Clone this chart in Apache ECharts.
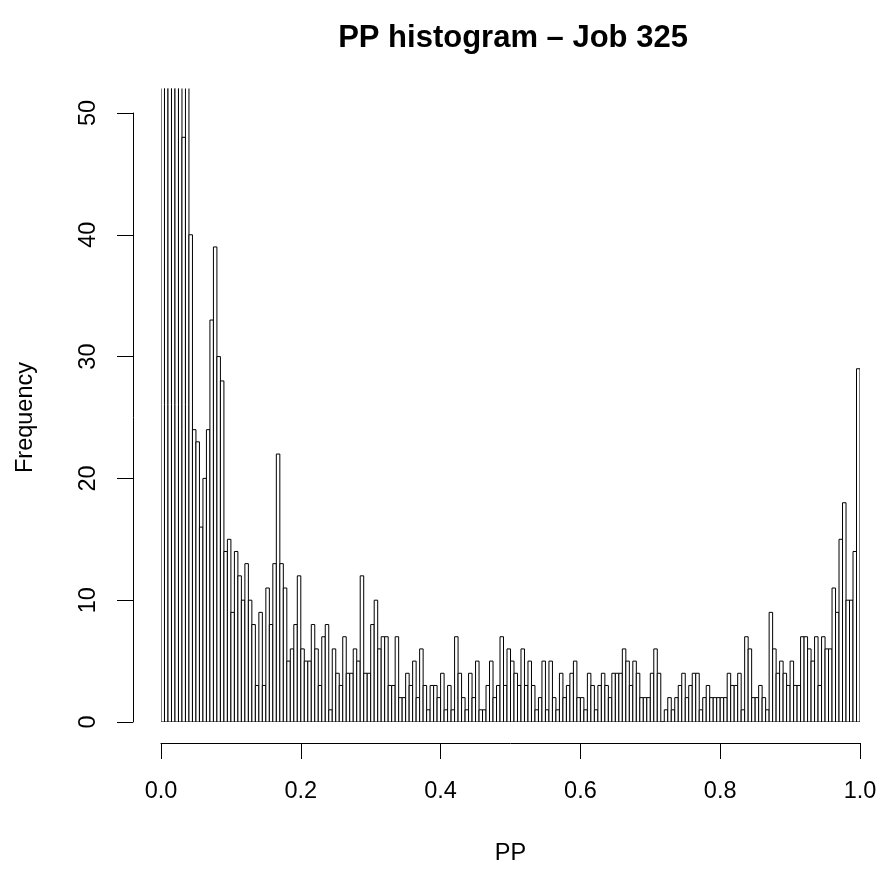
<!DOCTYPE html>
<html>
<head>
<meta charset="utf-8">
<script src="https://cdn.jsdelivr.net/npm/echarts@6/dist/echarts.min.js"></script>
<style>
  html, body { margin: 0; padding: 0; background: #fff; }
  #main { width: 880px; height: 871px; }
</style>
</head>
<body>
<div id="main"></div>
<script>
// histogram of PP, bins of width 0.005 from 0 to 1
var binWidth = 0.005;
// counts per bin, left to right (first bars run off the top of the plot)
var counts = [
  110, 85, 72, 64, 60, 56, 48, 54, 40, 24,
  23, 16, 20, 24, 33, 39, 30, 28, 14, 15,
  9, 14, 12, 10, 13, 10, 8, 3, 9, 3,
  11, 8, 13, 22, 13, 11, 5, 6, 8, 12,
  6, 5, 5, 8, 6, 3, 7, 8, 1, 6,
  4, 3, 7, 4, 4, 6, 5, 12, 4, 4,
  8, 10, 6, 7, 7, 3, 3, 7, 2, 2,
  4, 3, 5, 2, 6, 3, 1, 3, 3, 2,
  4, 1, 3, 1, 7, 4, 2, 1, 4, 2,
  5, 1, 1, 3, 5, 2, 3, 7, 3, 6,
  5, 4, 3, 6, 3, 5, 3, 1, 2, 5,
  1, 5, 2, 1, 4, 2, 3, 4, 5, 2,
  2, 1, 4, 3, 1, 3, 4, 3, 2, 4,
  4, 4, 6, 5, 3, 5, 4, 2, 2, 2,
  4, 6, 4, 0, 1, 2, 1, 2, 3, 4,
  2, 3, 4, 4, 1, 2, 3, 2, 2, 2,
  2, 2, 4, 3, 3, 4, 1, 7, 6, 2,
  2, 3, 2, 1, 9, 6, 4, 5, 4, 3,
  5, 3, 3, 7, 7, 6, 5, 7, 3, 7,
  6, 6, 11, 9, 15, 18, 10, 10, 14, 29
];
var xTicks = [0, 0.2, 0.4, 0.6, 0.8, 1.0];
var yTicks = [0, 10, 20, 30, 40, 50];

var bins = [];
for (var i = 0; i < counts.length; i++) {
  bins.push([i * binWidth, (i + 1) * binWidth, counts[i]]);
}

var chart = echarts.init(document.getElementById('main'));
var font = 'Liberation Sans, Arial, sans-serif';
var black = { color: '#000', width: 1 };

function renderBar(params, api) {
  var p0 = api.coord([api.value(0), 0]);
  var p1 = api.coord([api.value(1), api.value(2)]);
  return {
    type: 'rect',
    shape: { x: p0[0], y: p1[1], width: p1[0] - p0[0], height: p0[1] - p1[1] },
    style: { fill: '#fff', stroke: '#000', lineWidth: 1 }
  };
}

var option = {
  backgroundColor: '#fff',
  animation: false,
  title: {
    text: 'PP histogram \u2013 Job 325',
    left: 508,
    top: 18,
    textAlign: 'center',
    textStyle: { fontFamily: font, fontSize: 31, fontWeight: 'bold', color: '#000' }
  },
  // grid 0 holds the bars, grids 1 and 2 only carry the detached R style axes
  grid: [
    { left: 161, right: 20, top: 88.6, bottom: 149 },
    { left: 161, right: 20, top: 113, bottom: 124 },
    { left: 133, right: 20, top: 113, bottom: 149 }
  ],
  xAxis: [
    { gridIndex: 0, type: 'value', min: 0, max: 1, show: false },
    {
      gridIndex: 1,
      type: 'value',
      min: 0,
      max: 1,
      interval: 0.2,
      name: 'PP',
      nameLocation: 'middle',
      nameGap: 99,
      nameTextStyle: { fontFamily: font, fontSize: 23.5, color: '#000' },
      axisLine: { show: true, onZero: false, lineStyle: black },
      axisTick: { show: true, length: 16, lineStyle: black },
      axisLabel: {
        margin: 37,
        fontFamily: font,
        fontSize: 23.5,
        color: '#000',
        formatter: function (v) { return xTicks.indexOf(v) >= 0 ? v.toFixed(1) : ''; }
      },
      splitLine: { show: false }
    },
    { gridIndex: 2, type: 'value', min: 0, max: 1, show: false }
  ],
  yAxis: [
    { gridIndex: 0, type: 'value', min: 0, max: 52, show: false },
    { gridIndex: 1, type: 'value', min: 0, max: 50, show: false },
    {
      gridIndex: 2,
      type: 'value',
      min: 0,
      max: 50,
      interval: 10,
      name: 'Frequency',
      nameLocation: 'middle',
      nameGap: 95,
      nameTextStyle: { fontFamily: font, fontSize: 23.5, color: '#000' },
      axisLine: { show: true, onZero: false, lineStyle: black },
      axisTick: { show: true, length: 16, lineStyle: black },
      axisLabel: {
        rotate: 90,
        margin: 32,
        fontFamily: font,
        fontSize: 23.5,
        color: '#000',
        formatter: function (v) { return yTicks.indexOf(v) >= 0 ? String(v) : ''; }
      },
      splitLine: { show: false }
    }
  ],
  series: [{
    type: 'custom',
    xAxisIndex: 0,
    yAxisIndex: 0,
    clip: true,
    renderItem: renderBar,
    encode: { x: [0, 1], y: 2 },
    data: bins
  }]
};

chart.setOption(option);
</script>
</body>
</html>
